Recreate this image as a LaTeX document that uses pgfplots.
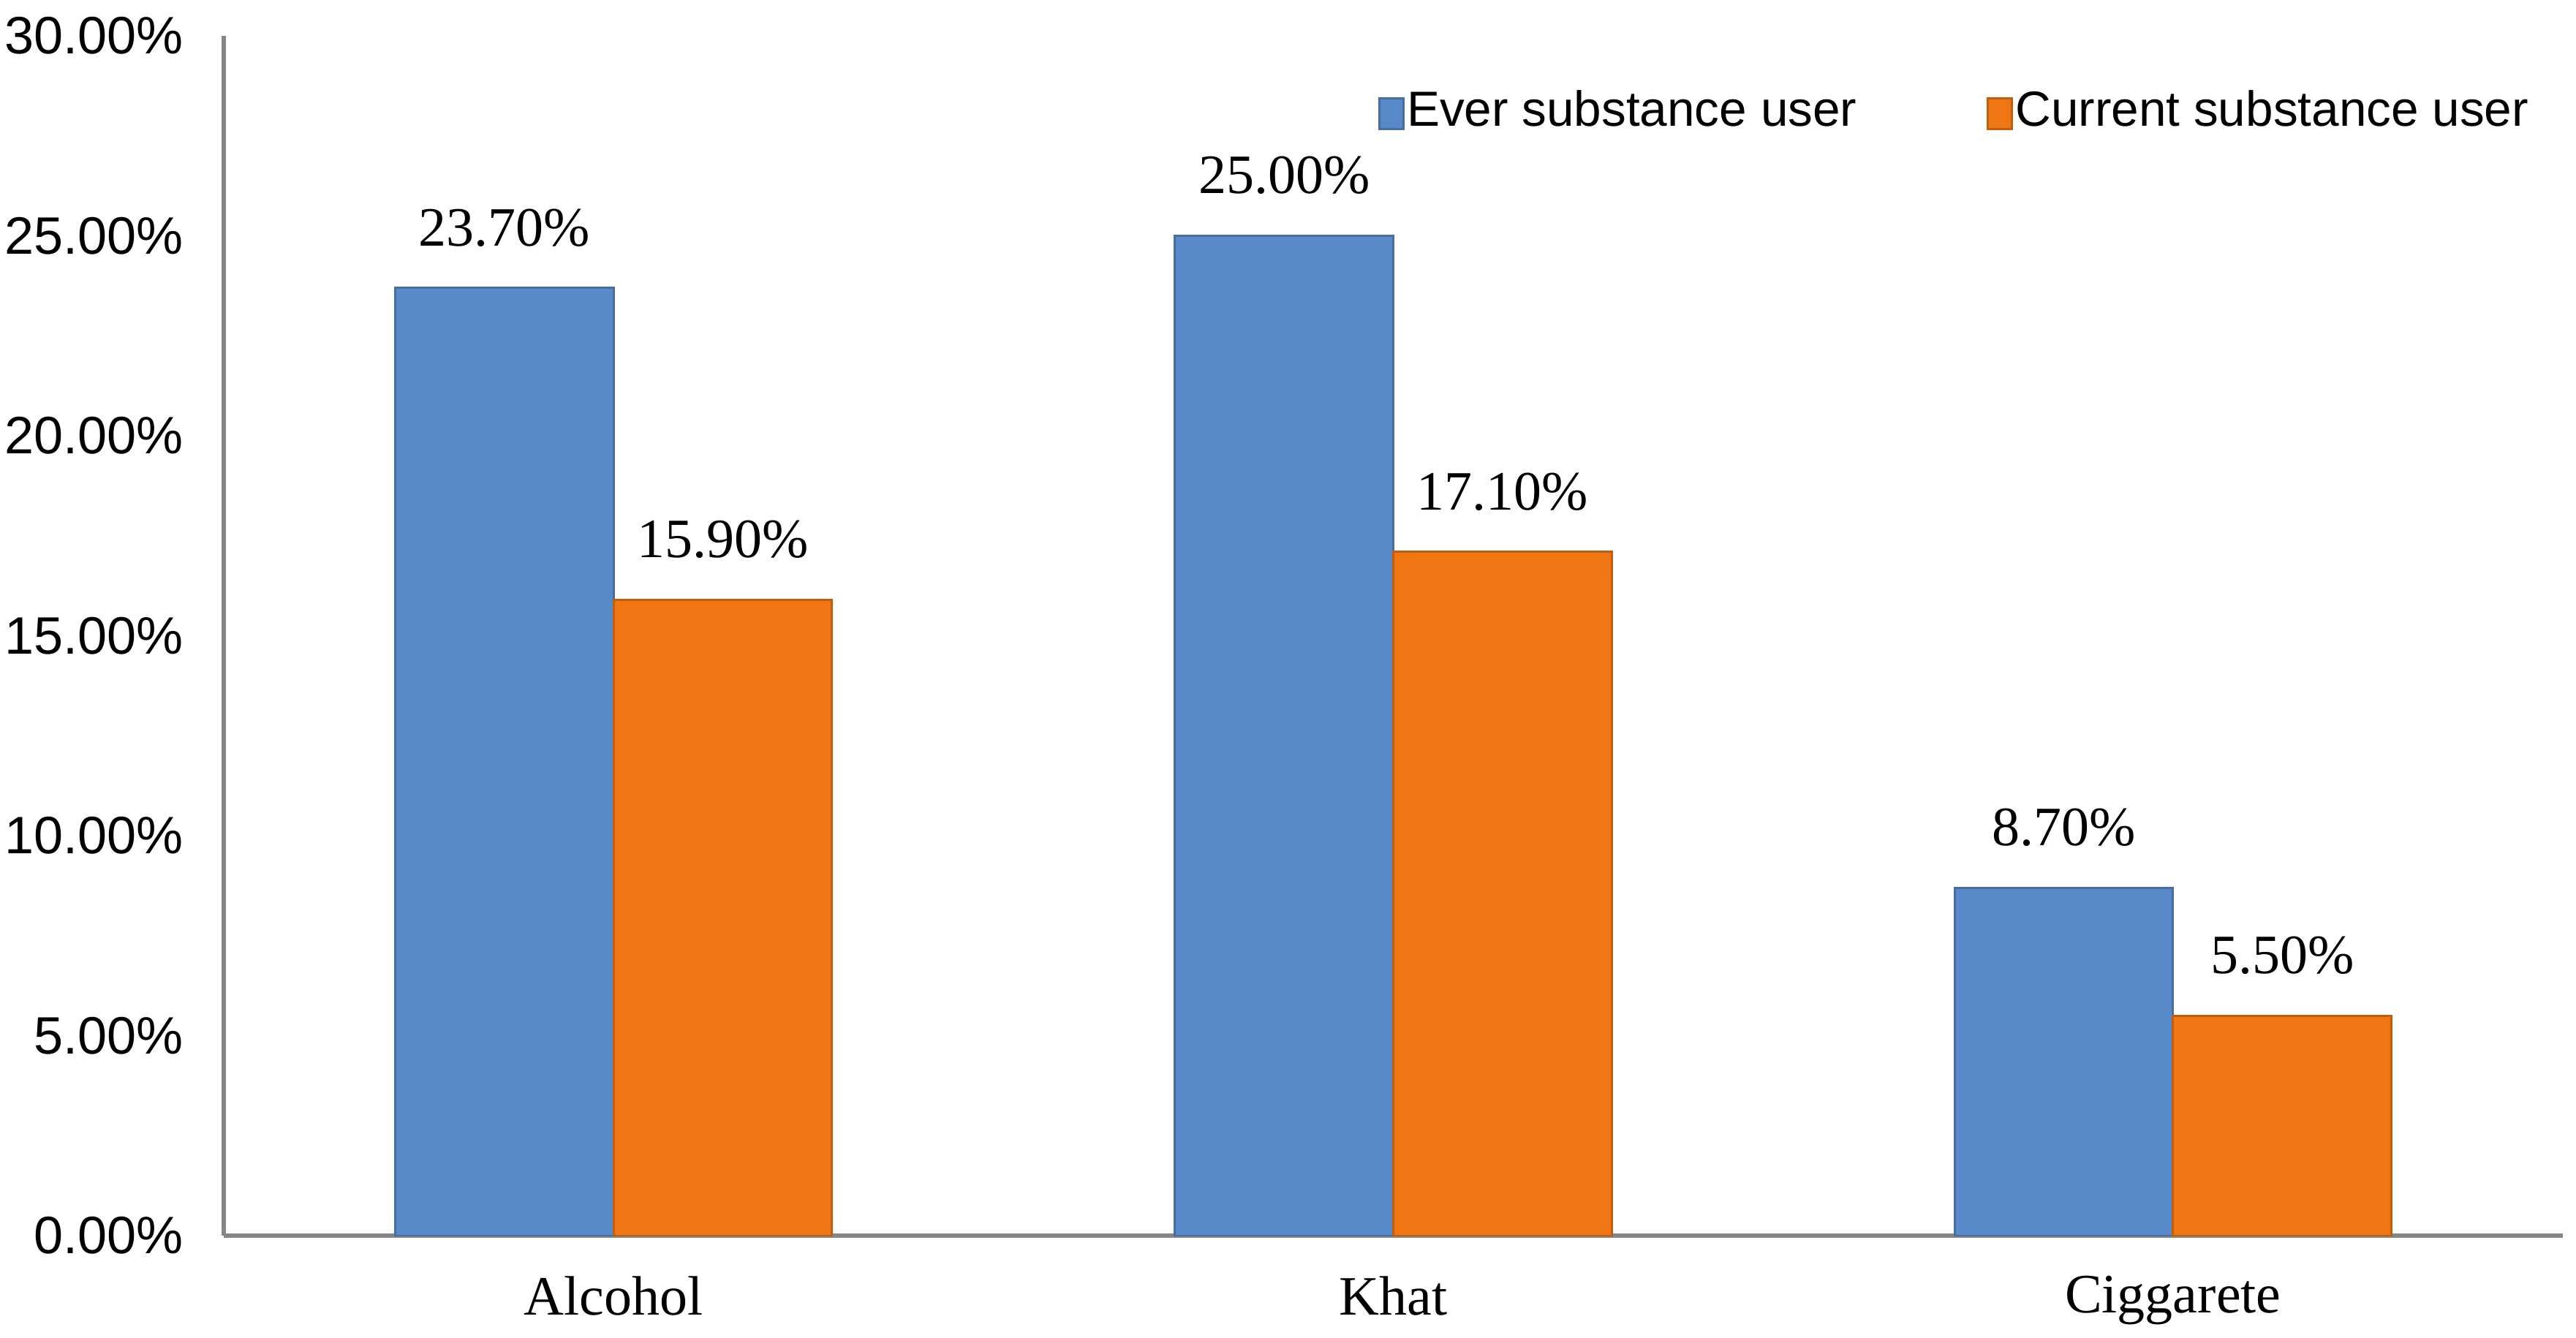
\documentclass[border=0pt]{standalone}
\usepackage{pgfplots}
\pgfplotsset{compat=1.18}
\usepackage{fontspec}
\setmainfont{Liberation Serif}
\newfontfamily\sansf{Liberation Sans}
\definecolor{barblue}{HTML}{5889C9}
\definecolor{barorange}{HTML}{F07614}
\definecolor{axgray}{HTML}{868686}
\begin{document}
\begin{tikzpicture}
\useasboundingbox (-30.6pt,-13.9pt) rectangle (321.7pt,169.0pt);
\begin{axis}[
  at={(0,0)}, anchor=south west,
  scale only axis, width=319.9pt, height=164.1pt,
  xmin=-0.5, xmax=2.5, ymin=0, ymax=30,
  axis x line=bottom, axis y line=left,
  axis line style={axgray, line width=0.6pt, -},
  xtick={0,1,2}, xticklabels={Alcohol,Khat,Ciggarete},
  xticklabel style={font=\fontsize{7.6}{9}\selectfont, yshift=-2pt},
  ytick={0,5,10,15,20,25,30},
  yticklabel={\sansf\pgfmathprintnumber[fixed,fixed zerofill,precision=2,assume math mode=true]{\tick}\%},
  yticklabel style={font=\fontsize{7.2}{8}\selectfont, inner sep=0pt, xshift=-5.3pt},
  major tick length=0pt,
  ybar, bar width=0.28,
  nodes near coords={\pgfmathprintnumber[fixed,fixed zerofill,precision=2,assume math mode=true]{\pgfplotspointmeta}\%},
  nodes near coords style={font=\fontsize{7.6}{9}\selectfont, text=black, anchor=south, inner sep=0pt, yshift=5.5pt},
  legend style={draw=none, fill=none, at={(0.493,0.935)}, anchor=west, inner sep=0pt,
    font=\sansf\fontsize{6.75}{8}\selectfont, legend columns=2,
    /tikz/every even column/.append style={column sep=17.5pt},
    nodes={inner sep=0.3pt}},
  legend image code/.code={\fill[#1] (0pt,-2.1pt) rectangle (3.3pt,2.1pt);},
]
\addplot[fill=barblue, draw=barblue!80!black, line width=0.3pt, bar shift=0pt]
  coordinates {(-0.14,23.7) (0.86,25.0) (1.86,8.7)};
\addlegendentry{Ever substance user}
\addplot[fill=barorange, draw=barorange!80!black, line width=0.3pt, bar shift=0pt]
  coordinates {(0.14,15.9) (1.14,17.1) (2.14,5.5)};
\addlegendentry{Current substance user}
\end{axis}
\end{tikzpicture}
\end{document}
